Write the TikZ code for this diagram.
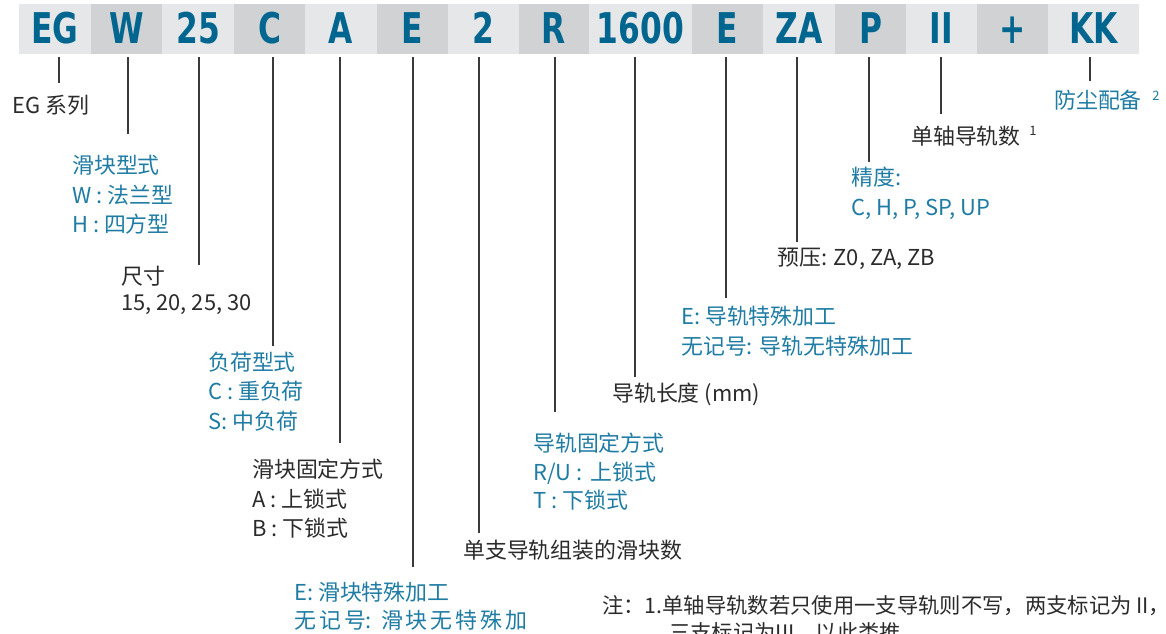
\documentclass[tikz,border=0pt]{standalone}
\usepackage{fontspec}
\usepackage{graphicx}
\setmainfont{Noto Sans CJK SC}
\newfontfamily\barfamily{DejaVu Sans}
\definecolor{cellL}{HTML}{E6E7E9}
\definecolor{cellD}{HTML}{D1D2D4}
\definecolor{barblue}{HTML}{00668F}
\definecolor{lblblue}{HTML}{1F7CA4}
\definecolor{lbldark}{HTML}{2B2B2B}
\definecolor{tickcol}{HTML}{3A3A3A}
\newcommand{\barT}[1]{\barfamily\bfseries\fontsize{42.5}{43}\selectfont\scalebox{0.74}[1]{#1}}
\newcommand{\gp}{\hspace{3bp}}
\tikzset{
  cellbase/.style={inner sep=0pt, minimum height=50bp, text height=31bp, text depth=2bp, text=barblue},
  lightcell/.style={cellbase, fill=cellL},
  darkcell/.style={cellbase, fill=cellD},
  tickline/.style={draw=tickcol, line width=1.2bp},
  lbl/.style={anchor=base west, inner sep=0pt, font=\fontsize{22}{26}\selectfont},
  lblB/.style={lbl, text=lblblue},
  lblK/.style={lbl, text=lbldark},
  notestyle/.style={lblK, font=\fontsize{21.4}{26}\selectfont},
  supK/.style={anchor=center, inner sep=0pt, font=\fontsize{13}{15}\selectfont, text=lbldark},
  supB/.style={supK, text=lblblue},
}
\begin{document}
\begin{tikzpicture}[x=1bp,y=-1bp]
\useasboundingbox (0,0) rectangle (1166,634);
\fill[white] (0,0) rectangle (1166,634);
% code bar
\node[lightcell, minimum width=72bp] (cEG) at (55,29) {\barT{EG}};
\node[darkcell, minimum width=71bp] (cW) at (126.5,29) {\barT{W}};
\node[lightcell, minimum width=72bp] (c25) at (198,29) {\barT{25}};
\node[darkcell, minimum width=71bp] (cC) at (269.5,29) {\barT{C}};
\node[lightcell, minimum width=72bp] (cA) at (341,29) {\barT{A}};
\node[darkcell, minimum width=71bp] (cE) at (412.5,29) {\barT{E}};
\node[lightcell, minimum width=71bp] (c2) at (483.5,29) {\barT{2}};
\node[darkcell, minimum width=70bp] (cR) at (554,29) {\barT{R}};
\node[lightcell, minimum width=103bp] (c1600) at (640.5,29) {\barT{1600}};
\node[darkcell, minimum width=71bp] (cE2) at (727.5,29) {\barT{E}};
\node[lightcell, minimum width=72bp] (cZA) at (799,29) {\barT{ZA}};
\node[darkcell, minimum width=71bp] (cP) at (870.5,29) {\barT{P}};
\node[lightcell, minimum width=71bp] (cII) at (941.5,29) {\barT{II}};
\node[darkcell, minimum width=71bp] (cPlus) at (1012.5,29) {\barT{+}};
\node[lightcell, minimum width=91bp] (cKK) at (1093.5,29) {\barT{KK}};
% tick end points
\coordinate (eEG) at (59,83);
\coordinate (eW) at (128,134);
\coordinate (e25) at (199,265);
\coordinate (eC) at (273,346);
\coordinate (eA) at (340,443);
\coordinate (eE) at (413,567);
\coordinate (e2) at (479,533);
\coordinate (eR) at (555,412);
\coordinate (e1600) at (635,377);
\coordinate (eE2) at (726,298);
\coordinate (eZA) at (797,242);
\coordinate (eP) at (869,162);
\coordinate (eII) at (941,114);
\coordinate (eKK) at (1090,81);
\foreach \c/\e in {cEG/eEG,cW/eW,c25/e25,cC/eC,cA/eA,cE/eE,c2/e2,cR/eR,c1600/e1600,cE2/eE2,cZA/eZA,cP/eP,cII/eII,cKK/eKK}
  \draw[tickline] (\c.south -| \e) ++(0,3) -- (\e);
% labels
\node[lblK] (lEG) at (12,114) {EG 系列};
\node[lblB] (lW1) at (72,174) {滑块型式};
\node[lblB] (lW2) at (72,204) {W : 法兰型};
\node[lblB] (lW3) at (72,233) {H : 四方型};
\node[lblK] (l251) at (121,285) {尺寸};
\node[lblK] (l252) at (121,311) {15, 20, 25, 30};
\node[lblB] (lC1) at (208,370) {负荷型式};
\node[lblB] (lC2) at (208,399) {C : 重负荷};
\node[lblB] (lC3) at (208,429) {S: 中负荷};
\node[lblK] (lA1) at (252,477) {滑块固定方式};
\node[lblK] (lA2) at (252,507) {A : 上锁式};
\node[lblK] (lA3) at (252,536) {B : 下锁式};
\node[lblB] (lE1) at (294,600) {E: 滑块特殊加工};
\node[lblB] (lE2) at (294,628) {无\gp 记\gp 号:\hspace{9bp}滑\gp 块\gp 无\gp 特\gp 殊\gp 加};
\node[lblK] (l2) at (463,558) {单支导轨组装的滑块数};
\node[lblB] (lR1) at (533,451) {导轨固定方式};
\node[lblB] (lR2) at (533,480) {R/U :\hspace{8bp}上锁式};
\node[lblB] (lR3) at (533,508) {T : 下锁式};
\node[lblK] (l1600) at (612,401) {导轨长度 (mm)};
\node[lblB] (lEb1) at (681,325) {E: 导轨特殊加工};
\node[lblB] (lEb2) at (681,354) {无记号: 导轨无特殊加工};
\node[lblK] (lZA) at (777,266) {预压: Z0, ZA, ZB};
\node[lblB] (lP1) at (851,186) {精度:};
\node[lblB] (lP2) at (851,216) {C, H, P, SP, UP};
\node[lblK] (lII) at (911,145) {单轴导轨数};
\node[supK] (sII) at (1033,131) {1};
\node[lblB] (lKK) at (1054,109) {防尘配备};
\node[supB] (sKK) at (1156,96) {2};
% note
\node[notestyle] (n1) at (602,613) {注：1.单轴导轨数若只使用一支导轨则不写，两支标记为 II，};
\node[notestyle] (n2) at (669,640) {三支标记为III，以此类推。};
\end{tikzpicture}
\end{document}
